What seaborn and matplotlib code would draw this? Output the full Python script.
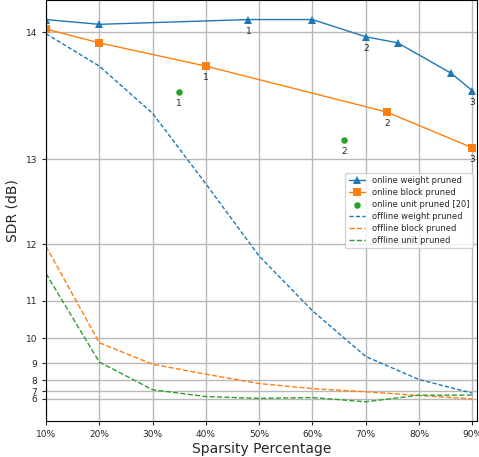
import numpy as np
import pandas as pd
import matplotlib
matplotlib.use("Agg")
import matplotlib.pyplot as plt
import seaborn as sns

# SDR values (dB), sparsity in percent
on_weight_x = [10, 20, 48, 60, 70, 76, 86, 90]
on_weight_y = [14.08, 14.05, 14.08, 14.08, 13.97, 13.93, 13.72, 13.59]
on_weight_lbl = {48: "1", 70: "2", 90: "3"}

on_block_x = [10, 20, 40, 74, 90]
on_block_y = [14.02, 13.93, 13.77, 13.42, 13.11]
on_block_lbl = {40: "1", 74: "2", 90: "3"}

on_unit_x = [35, 66]
on_unit_y = [13.58, 13.18]
on_unit_lbl = ["1", "2"]

off_x = [10, 20, 30, 40, 50, 60, 70, 80, 90]
off_weight_y = [13.99, 13.77, 13.41, 12.75, 11.82, 10.77, 9.32, 8.05, 6.80]
off_block_y = [11.97, 9.85, 8.96, 8.41, 7.74, 7.29, 6.95, 6.50, 6.00]
off_unit_y = [11.53, 9.07, 7.17, 6.35, 6.07, 6.20, 5.45, 6.54, 6.54]

y_ticks = [6, 7, 8, 9, 10, 11, 12, 13, 14]
x_ticks = [10, 20, 30, 40, 50, 60, 70, 80, 90]

BASE = 1.5  # axis is stretched exponentially


def warp(v):
    return BASE ** np.asarray(v, dtype=float)


def frame(x, y):
    return pd.DataFrame({"x": x, "t": warp(y)})


sns.set_style("ticks", {"axes.grid": True, "grid.color": "#b0b0b0",
                        "axes.edgecolor": "black"})
plt.rcParams["font.family"] = ["DejaVu Sans"]

blue, orange, green = "#1f77b4", "#ff7f0e", "#2ca02c"

fig, ax = plt.subplots(figsize=(4.79, 4.57), dpi=100)
fig.subplots_adjust(left=0.096, right=0.996, bottom=0.079, top=0.999)

sns.lineplot(data=frame(on_weight_x, on_weight_y), x="x", y="t", ax=ax,
             color=blue, marker="^", markersize=6, markeredgewidth=0,
             linewidth=1, label="online weight pruned")
sns.lineplot(data=frame(on_block_x, on_block_y), x="x", y="t", ax=ax,
             color=orange, marker="s", markersize=5.8, markeredgewidth=0,
             linewidth=1, label="online block pruned")
sns.scatterplot(data=frame(on_unit_x, on_unit_y), x="x", y="t", ax=ax,
                color=green, s=22, linewidth=0, label="online unit pruned [20]")
sns.lineplot(data=frame(off_x, off_weight_y), x="x", y="t", ax=ax,
             color=blue, linestyle=(0, (3, 1.6)), linewidth=1,
             label="offline weight pruned")
sns.lineplot(data=frame(off_x, off_block_y), x="x", y="t", ax=ax,
             color=orange, linestyle="--", linewidth=1,
             label="offline block pruned")
sns.lineplot(data=frame(off_x, off_unit_y), x="x", y="t", ax=ax,
             color=green, linestyle="--", linewidth=1,
             label="offline unit pruned")

# small index labels under the online points
for xs, ys, lbl in [(on_weight_x, on_weight_y, on_weight_lbl),
                    (on_block_x, on_block_y, on_block_lbl)]:
    for x, y in zip(xs, ys):
        if x in lbl:
            ax.annotate(lbl[x], (x, warp(y)), xytext=(0, -5),
                        textcoords="offset points", ha="center", va="top",
                        fontsize=6.5, color="#222222")
for x, y, l in zip(on_unit_x, on_unit_y, on_unit_lbl):
    ax.annotate(l, (x, warp(y)), xytext=(0, -5), textcoords="offset points",
                ha="center", va="top", fontsize=6.5, color="#222222")

ax.set_xlim(10, 90.9)
ax.set_xticks(x_ticks)
ax.set_xticklabels([f"{v}%" for v in x_ticks])
ax.set_yticks(warp(y_ticks))
ax.set_yticklabels([str(v) for v in y_ticks])
ax.tick_params(labelsize=6.5, length=3, width=0.8)
ax.grid(True, color="#b8b8b8", linewidth=1)

ax.set_xlabel("Sparsity Percentage", fontsize=10, labelpad=2)
ax.set_ylabel("SDR (dB)", fontsize=10, labelpad=4)

ax.legend(loc="center right", fontsize=6, frameon=True, fancybox=True,
          framealpha=0.8, borderpad=0.4, labelspacing=0.35, handlelength=2)

fig.savefig("out.png", dpi=100)
